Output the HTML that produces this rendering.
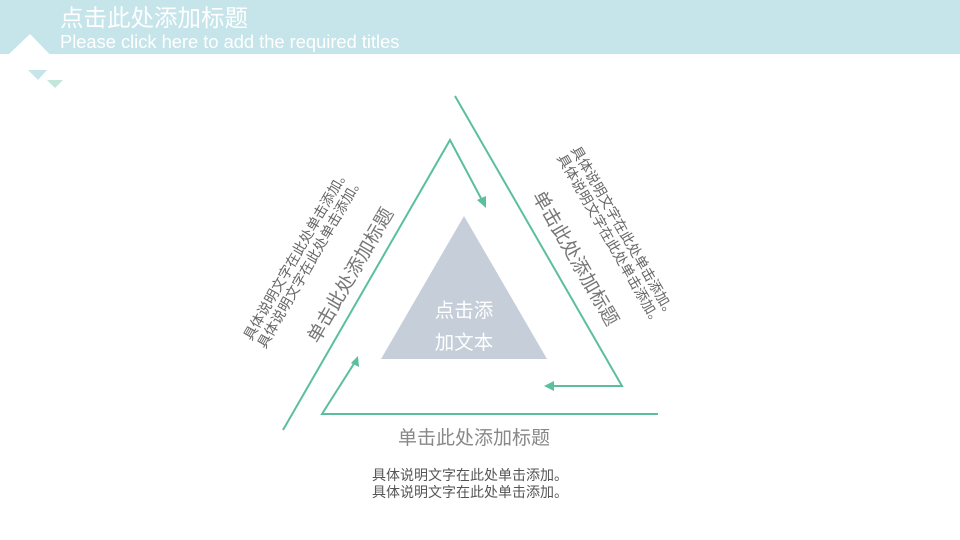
<!DOCTYPE html>
<html><head><meta charset="utf-8"><style>
body{margin:0;width:960px;height:540px;overflow:hidden;background:#fff}
svg{display:block}
text{font-family:"Liberation Sans","Noto Sans CJK SC",sans-serif}
</style></head><body>
<svg width="960" height="540" viewBox="0 0 960 540" xmlns="http://www.w3.org/2000/svg">
<rect x="0" y="0" width="960" height="54" fill="#c5e5ea"/>
<polygon points="8,55 30,34 62,67 75,55" fill="#fff"/>
<polygon points="28,70 47,70 38,80" fill="#c5e5ea"/>
<polygon points="47,80 63,80 55,88" fill="#c3e6dc"/>
<text x="60" y="26" font-size="23.5" fill="#fff">点击此处添加标题</text>
<text x="60" y="48" font-size="18.3" fill="#fff">Please click here to add the required titles</text>

<g stroke="#5bbf9c" stroke-width="2" fill="none">
<polyline points="455,96 622,386 550,386"/>
<polyline points="283,430 450,140 483,202"/>
<polyline points="658,414 322,414 355,362"/>
</g>
<g fill="#5bbf9c">
<polygon points="544,386 554,381 554,391"/>
<polygon points="486,208 477,200 486,196"/>
<polygon points="358,356 359,367 351,363"/>
</g>

<polygon points="381,359 464,216 547,359" fill="#c5ced9"/>
<text x="464" y="317" font-size="19.5" fill="#fff" text-anchor="middle">点击添</text>
<text x="464" y="349" font-size="19.5" fill="#fff" text-anchor="middle">加文本</text>

<g transform="translate(350,275) rotate(-60)">
<text x="0" y="7" font-size="19" fill="#777" text-anchor="middle">单击此处添加标题</text>
</g>
<g transform="translate(303,258) rotate(-60)">
<text x="0" y="-3" font-size="14" fill="#666" text-anchor="middle">具体说明文字在此处单击添加。</text>
<text x="0" y="13" font-size="14" fill="#666" text-anchor="middle">具体说明文字在此处单击添加。</text>
</g>
<g transform="translate(576,258) rotate(60)">
<text x="0" y="7" font-size="19" fill="#777" text-anchor="middle">单击此处添加标题</text>
</g>
<g transform="translate(617,236) rotate(60)">
<text x="0" y="-3" font-size="14" fill="#666" text-anchor="middle">具体说明文字在此处单击添加。</text>
<text x="0" y="13" font-size="14" fill="#666" text-anchor="middle">具体说明文字在此处单击添加。</text>
</g>

<text x="474" y="444" font-size="19" fill="#888" text-anchor="middle">单击此处添加标题</text>
<text x="470" y="480" font-size="14" fill="#555" text-anchor="middle">具体说明文字在此处单击添加。</text>
<text x="470" y="497" font-size="14" fill="#555" text-anchor="middle">具体说明文字在此处单击添加。</text>
</svg>
</body></html>
